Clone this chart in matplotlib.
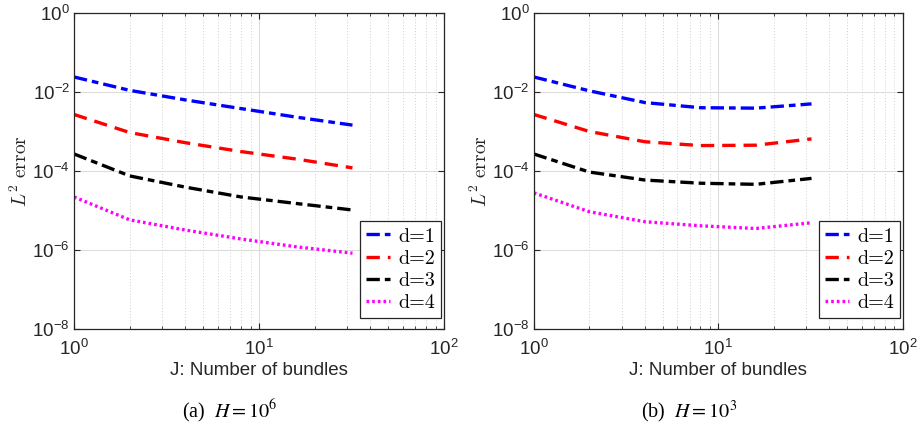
import matplotlib
matplotlib.use("Agg")
import matplotlib.pyplot as plt
from matplotlib.ticker import LogLocator, FixedLocator, NullFormatter

plt.rcParams['font.family'] = ['Liberation Sans', 'DejaVu Sans']
plt.rcParams['mathtext.fontset'] = 'cm'
plt.rcParams['axes.unicode_minus'] = False

J = [1, 2, 4, 8, 16, 32]
labels = ['d=1', 'd=2', 'd=3', 'd=4']

err_a_d1 = [0.024, 0.011, 0.0063, 0.0038, 0.0023, 0.00145]
err_a_d2 = [0.0027, 0.00094, 0.00052, 0.00031, 0.00020, 0.00012]
err_a_d3 = [0.00027, 7.5e-5, 3.9e-5, 2.2e-5, 1.5e-5, 1.03e-5]
err_a_d4 = [2.2e-5, 5.8e-6, 3.2e-6, 1.9e-6, 1.2e-6, 8.3e-7]

err_b_d1 = [0.024, 0.0107, 0.0054, 0.0040, 0.0039, 0.0050]
err_b_d2 = [0.0027, 0.0010, 0.00055, 0.00044, 0.00045, 0.00065]
err_b_d3 = [0.00027, 9.4e-5, 5.9e-5, 4.9e-5, 4.6e-5, 6.5e-5]
err_b_d4 = [2.8e-5, 9.3e-6, 5.2e-6, 4.1e-6, 3.5e-6, 4.9e-6]

captions = [r'(a)  $H = 10^6$', r'(b)  $H = 10^3$']

styles = [dict(color='#0000ff', dashes=(4, 1.5, 2, 1.5)),
          dict(color='#ff0000', dashes=(4, 2.4)),
          dict(color='#000000', dashes=(4, 1.5, 2, 1.5)),
          dict(color='#ff00ff', dashes=(0.8, 0.9))]

fig = plt.figure(figsize=(9.22, 4.26), dpi=100)
ax_a = fig.add_axes([0.0803, 0.2277, 0.4013, 0.7418])
ax_b = fig.add_axes([0.579, 0.2277, 0.4002, 0.7418])

tc = '#262626'
for ax, data, cap in [(ax_a, [err_a_d1, err_a_d2, err_a_d3, err_a_d4], captions[0]),
                      (ax_b, [err_b_d1, err_b_d2, err_b_d3, err_b_d4], captions[1])]:
    for y, lab, st in zip(data, labels, styles):
        ax.plot(J, y, lw=2.4, label=lab, **st)
    ax.set_xscale('log')
    ax.set_yscale('log')
    ax.set_xlim(1, 100)
    ax.set_ylim(1e-8, 1)
    ax.yaxis.set_major_locator(FixedLocator([1e-8, 1e-6, 1e-4, 1e-2, 1]))
    ax.yaxis.set_minor_locator(FixedLocator([]))
    ax.xaxis.set_major_locator(FixedLocator([1, 10, 100]))
    ax.xaxis.set_minor_locator(LogLocator(base=10, subs=range(2, 10)))
    ax.xaxis.set_minor_formatter(NullFormatter())
    ax.grid(True, which='major', color='#dcdcdc', lw=0.8, ls='-')
    ax.grid(True, which='minor', axis='x', color='#d0d0d0', lw=0.7, ls=(0, (1, 2)))
    ax.set_axisbelow(True)
    ax.tick_params(which='both', direction='in', top=True, right=True, colors=tc,
                   labelsize=13.5, labelcolor=tc)
    ax.tick_params(axis='x', which='major', pad=7)
    ax.tick_params(axis='y', which='major', pad=3)
    ax.tick_params(which='major', length=4, width=0.8)
    ax.tick_params(which='minor', length=2.5, width=0.6)
    for sp in ax.spines.values():
        sp.set_color(tc)
        sp.set_linewidth(0.9)
    ax.set_xlabel('J: Number of bundles', fontsize=13.5, color=tc, labelpad=2)
    ax.set_ylabel(r'$L^2\ \mathrm{error}$', fontsize=14, color=tc, labelpad=1)
    leg = ax.legend(loc='lower right', bbox_to_anchor=(0.993, 0.035),
                    prop={'family': 'cmr10', 'size': 14.5},
                    fancybox=False, framealpha=1, edgecolor=tc, borderaxespad=0,
                    handlelength=1.2, handletextpad=0.4, labelspacing=0.2,
                    borderpad=0.3)
    leg.get_frame().set_linewidth(0.9)
    ax.text(0.42, -0.262, cap, transform=ax.transAxes, ha='center', va='center',
            fontsize=14.5, family='Liberation Serif', math_fontfamily='stix')

fig.savefig('out.png', dpi=100)
